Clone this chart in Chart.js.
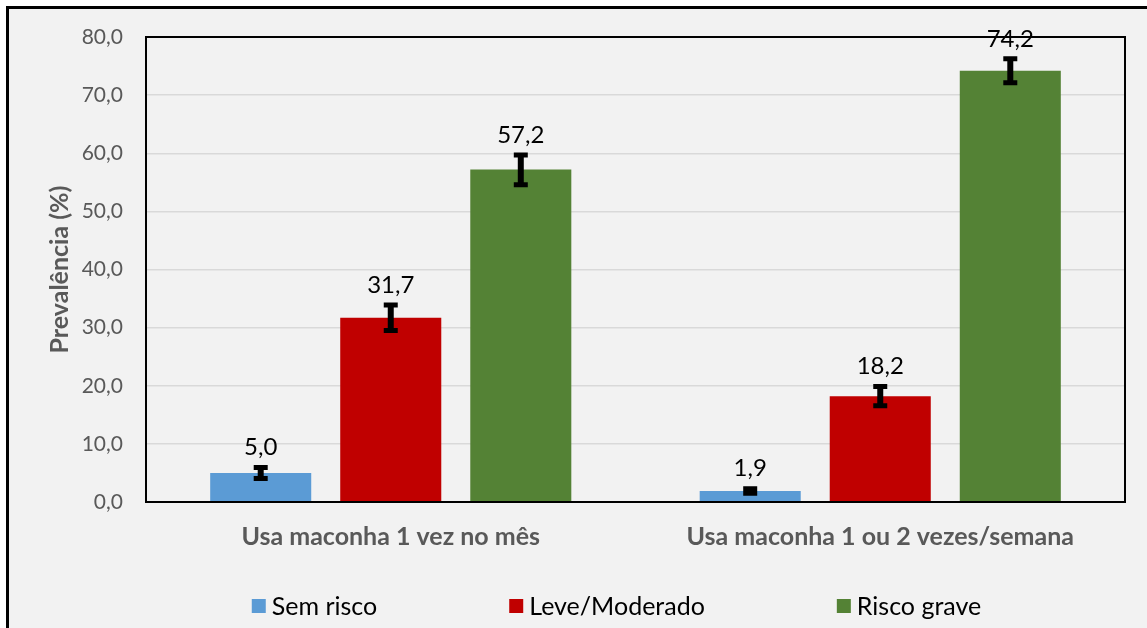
<!DOCTYPE html>
<html>
<head>
<meta charset="utf-8">
<script src="https://cdn.jsdelivr.net/npm/chart.js@4.4.0/dist/chart.umd.min.js"></script>
<style>
  html, body { margin: 0; padding: 0; background: #fff; overflow: hidden; }
  #frame { position: absolute; left: 6px; top: 6px; width: 1200px; height: 700px;
           border-left: 3px solid #000; border-top: 3px solid #000; background: #f2f2f2; }
  #box { position: absolute; left: 0; top: 0; width: 1138px; height: 619px; }
</style>
</head>
<body>
<div id="frame"><div id="box"><canvas id="chart"></canvas></div></div>
<script>
const categories = ['Usa maconha 1 vez no mês', 'Usa maconha 1 ou 2 vezes/semana']
const seriesNames = ['Sem risco', 'Leve/Moderado', 'Risco grave']
const seriesColors = ['#5b9bd5', '#c00000', '#548235']

const semRisco = [5.0, 1.9]
const leveModerado = [31.7, 18.2]
const riscoGrave = [57.2, 74.2]

// limites das barras de erro (inferior / superior)
const semRiscoLow = [4.05, 1.5]
const semRiscoHigh = [5.95, 2.3]
const leveModeradoLow = [29.5, 16.55]
const leveModeradoHigh = [33.9, 19.85]
const riscoGraveLow = [54.6, 72.15]
const riscoGraveHigh = [59.7, 76.25]

const yMin = 0
const yMax = 80
const yStep = 10

const fontFamily = 'Lato, "Open Sans", sans-serif'
const fmt = v => v.toFixed(1).replace('.', ',')

const values = [semRisco, leveModerado, riscoGrave]
const lows = [semRiscoLow, leveModeradoLow, riscoGraveLow]
const highs = [semRiscoHigh, leveModeradoHigh, riscoGraveHigh]

// moldura do gráfico, barras de erro e rótulos
const extras = {
    id: 'extras',
    afterDatasetsDraw(chart) {
        const {ctx, chartArea: a, scales: {y}} = chart
        ctx.save()
        ctx.strokeStyle = '#000'
        ctx.lineWidth = 2
        ctx.strokeRect(a.left, a.top, a.right - a.left, a.bottom - a.top)

        chart.data.datasets.forEach((ds, i) => {
            const meta = chart.getDatasetMeta(i)
            meta.data.forEach((bar, j) => {
                const top = y.getPixelForValue(highs[i][j])
                const bottom = y.getPixelForValue(lows[i][j])
                ctx.strokeStyle = '#000'
                ctx.lineCap = 'butt'
                ctx.lineWidth = 6
                ctx.beginPath()
                ctx.moveTo(bar.x, top)
                ctx.lineTo(bar.x, bottom)
                ctx.stroke()
                ctx.lineWidth = 5
                ctx.beginPath()
                ctx.moveTo(bar.x - 7, top)
                ctx.lineTo(bar.x + 7, top)
                ctx.moveTo(bar.x - 7, bottom)
                ctx.lineTo(bar.x + 7, bottom)
                ctx.stroke()

                ctx.fillStyle = '#000'
                ctx.font = `24px ${fontFamily}`
                ctx.textAlign = 'center'
                ctx.textBaseline = 'middle'
                ctx.fillText(fmt(ds.data[j]), bar.x, top - 20)
            })
        })
        ctx.restore()
    },
    afterDraw(chart) {
        const {ctx} = chart
        const gap = 132
        const box = 14
        const centerX = 607.5
        const cy = 597
        ctx.save()
        ctx.font = `25px ${fontFamily}`
        ctx.textBaseline = 'middle'
        ctx.textAlign = 'left'
        const widths = chart.data.datasets.map(ds => box + 6 + ctx.measureText(ds.label).width)
        const total = widths.reduce((s, w) => s + w, 0) + gap * (widths.length - 1)
        let x = centerX - total / 2
        chart.data.datasets.forEach((ds, i) => {
            ctx.fillStyle = ds.backgroundColor
            ctx.fillRect(x, cy - box / 2, box, box)
            ctx.fillStyle = '#000'
            ctx.fillText(ds.label, x + box + 6, cy + 1)
            x += widths[i] + gap
        })
        ctx.restore()
    }
}

const ctx = document.getElementById('chart').getContext('2d')
new Chart(ctx, {
    type: 'bar',
    data: {
        labels: categories,
        datasets: seriesNames.map((name, i) => ({
            label: name,
            data: values[i],
            backgroundColor: seriesColors[i],
            borderWidth: 0,
            categoryPercentage: 0.797,
            barPercentage: 0.777
        }))
    },
    options: {
        responsive: true,
        maintainAspectRatio: false,
        animation: false,
        devicePixelRatio: 1,
        layout: {padding: {left: 0, right: 22, top: 28, bottom: 0}},
        plugins: {
            legend: {display: false},
            tooltip: {enabled: false}
        },
        scales: {
            x: {
                grid: {display: false},
                border: {display: false},
                ticks: {
                    color: '#595959',
                    font: {family: fontFamily, size: 25, weight: 'bold'},
                    padding: 12,
                    maxRotation: 0
                },
                afterFit: scale => { scale.height = 126 }
            },
            y: {
                min: yMin,
                max: yMax,
                grid: {color: '#d9d9d9', lineWidth: 1.5, drawTicks: false},
                border: {display: false},
                ticks: {
                    stepSize: yStep,
                    color: '#595959',
                    font: {family: fontFamily, size: 21},
                    padding: 23,
                    callback: v => fmt(v)
                },
                title: {
                    display: true,
                    text: 'Prevalência (%)',
                    color: '#595959',
                    font: {family: fontFamily, size: 25, weight: 'bold'},
                    padding: {top: 36}
                },
                afterFit: scale => {
                    scale.width = 137
                    scale.paddingTop = 0
                    scale.paddingBottom = 0
                }
            }
        }
    },
    plugins: [extras]
})
</script>
</body>
</html>
